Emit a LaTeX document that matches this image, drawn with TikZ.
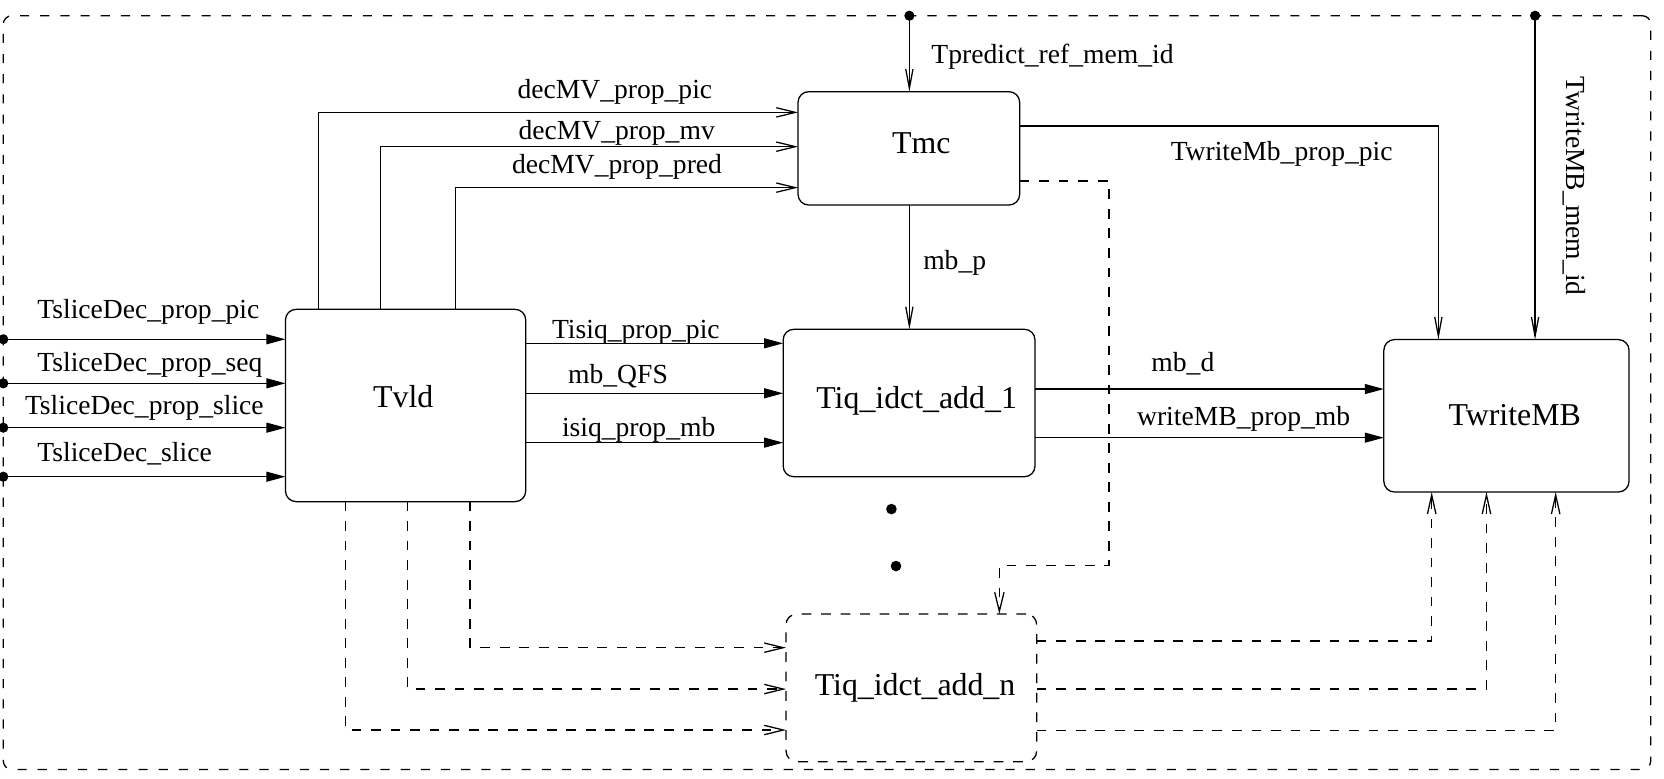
\documentclass[tikz,border=0pt]{standalone}
\usepackage{fontspec}
\setmainfont{Liberation Serif}
\usetikzlibrary{arrows.meta}
\begin{document}
\begin{tikzpicture}[x=0.5pt, y=-0.5pt,
  every node/.style={inner sep=0pt, outer sep=0pt},
  wire/.style={line width=0.6pt},
  dwire/.style={wire, dash pattern=on 4.6pt off 4.6pt},
  box/.style n args={2}{draw, line width=0.6pt, rounded corners=5pt,
    minimum width=#1, minimum height=#2},
  oarr/.style={-{Straight Barb[length=9pt,width=4.4pt]}},
  varr/.style={-{Straight Barb[length=9pt,width=3.4pt]}},
  uarr/.style={-{Straight Barb[length=9pt,width=4pt]}},
  farr/.style={-{Triangle[length=9pt,width=4.7pt]}},
  lbl/.style={font=\fontsize{13}{15}\selectfont, anchor=base west},
  big/.style={font=\fontsize{15}{18}\selectfont, anchor=base west},
  tap/.style={radius=2.4pt}
]
\useasboundingbox (0,0) rectangle (1568,734);

% enclosing dashed frame
\node[box={776.2pt}{355.1pt}, rounded corners=4pt, dash pattern=on 4.3pt off 5.2pt] (frame) at (779.3,369.9) {};

% processes
\node[box={113.2pt}{90.6pt}] (Tvld) at (382.2,382.1) {};
\node[box={104.4pt}{53.4pt}] (Tmc) at (856.4,139.8) {};
\node[box={118.65pt}{69.45pt}] (Tiq1) at (856.65,379.75) {};
\node[box={118.1pt}{69.55pt}, dash pattern=on 4.6pt off 4.6pt] (Tiqn) at (858.8,648.15) {};
\node[box={115.5pt}{71.8pt}] (TwriteMB) at (1419.5,391.8) {};

\node[big] (t1) at (351.6,384) {Tvld};
\node[big] (t2) at (840.6,144.5) {Tmc};
\node[big] (t3) at (769.3,384.8) {Tiq\_idct\_add\_1};
\node[big] (t4) at (767.8,655) {Tiq\_idct\_add\_n};
\node[big] (t5) at (1365,400.5) {TwriteMB};

% routing points
\coordinate (tp) at (856.9,14.8);
\coordinate (tw) at (1446.5,14.8);
\coordinate (in1) at (3.1,319.7);
\coordinate (in2) at (3.1,361.2);
\coordinate (in3) at (3.1,403);
\coordinate (in4) at (3.1,449.2);
\coordinate (xa) at (299.9,0);  \coordinate (ya) at (0,105.9);
\coordinate (xb) at (358.8,0);  \coordinate (yb) at (0,138.2);
\coordinate (xc) at (429.4,0);  \coordinate (yc) at (0,176.8);
\coordinate (y1) at (0,323.5);
\coordinate (y2) at (0,370.6);
\coordinate (y3) at (0,417.1);
\coordinate (y4) at (0,366.6);
\coordinate (y5) at (0,412.4);
\coordinate (y6) at (0,118.7);  \coordinate (x6) at (1355.4,0);
\coordinate (xp) at (856.9,0);
\coordinate (y7) at (0,170.6);
\coordinate (bd) at (1044.9,533);
\coordinate (xe) at (941.7,0);
\coordinate (xf) at (325.7,0);  \coordinate (yf) at (0,687.9);
\coordinate (xg) at (384.2,0);  \coordinate (yg) at (0,649.3);
\coordinate (xh) at (442.9,0);  \coordinate (yh) at (0,610.3);
\coordinate (yi) at (0,604);    \coordinate (xi) at (1349.1,0);
\coordinate (yj) at (0,649.3);  \coordinate (xj) at (1400.7,0);
\coordinate (yk) at (0,688.5);  \coordinate (xk) at (1465.9,0);

% taps on the frame
\foreach \c in {tp,tw,in1,in2,in3,in4} \fill (\c) circle[tap];

% slice decoder inputs
\foreach \c in {in1,in2,in3,in4}
  \draw[wire,farr] (\c) -- (\c -| Tvld.west);

% Tvld -> Tmc
\draw[wire,oarr] (Tvld.north -| xa) |- (Tmc.west |- ya);
\draw[wire,oarr] (Tvld.north -| xb) |- (Tmc.west |- yb);
\draw[wire,oarr] (Tvld.north -| xc) |- (Tmc.west |- yc);

% Tvld -> Tiq_idct_add_1
\foreach \c in {y1,y2,y3}
  \draw[wire,farr] (Tvld.east |- \c) -- (Tiq1.west |- \c);

% Tiq_idct_add_1 -> TwriteMB
\foreach \c in {y4,y5}
  \draw[wire,farr] (Tiq1.east |- \c) -- (TwriteMB.west |- \c);

% Tmc outputs
\draw[wire,varr] (Tmc.east |- y6) -| (TwriteMB.north -| x6);
\draw[wire,varr] (Tmc.south -| xp) -- (Tiq1.north -| xp);
\draw[dwire,oarr] (Tmc.east |- y7) -| (bd) -| (Tiqn.north -| xe);

% memory ids
\draw[wire,varr] (tp) -- (tp |- Tmc.north);
\draw[wire,varr] (tw) -- (tw |- TwriteMB.north);

% Tvld -> Tiq_idct_add_n
\draw[dwire,oarr] (Tvld.south -| xf) |- (Tiqn.west |- yf);
\draw[dwire,oarr] (Tvld.south -| xg) |- (Tiqn.west |- yg);
\draw[dwire,oarr] (Tvld.south -| xh) |- (Tiqn.west |- yh);

% Tiq_idct_add_n -> TwriteMB
\draw[dwire,uarr] (Tiqn.east |- yi) -| (TwriteMB.south -| xi);
\draw[dwire,uarr] (Tiqn.east |- yj) -| (TwriteMB.south -| xj);
\draw[dwire,uarr] (Tiqn.east |- yk) -| (TwriteMB.south -| xk);

% ellipsis between the instances
\fill (840,479.7) circle (2.5pt);
\fill (844.3,533.4) circle (2.5pt);

% channel names
\node[lbl] (l1) at (35.3,299.7) {TsliceDec\_prop\_pic};
\node[lbl] (l2) at (35.3,350) {TsliceDec\_prop\_seq};
\node[lbl] (l3) at (23.6,391) {TsliceDec\_prop\_slice};
\node[lbl] (l4) at (35.3,435) {TsliceDec\_slice};
\node[lbl] (l5) at (487.7,92.6) {decMV\_prop\_pic};
\node[lbl] (l6) at (488.7,131.9) {decMV\_prop\_mv};
\node[lbl] (l7) at (482.5,163.3) {decMV\_prop\_pred};
\node[lbl] (l8) at (877.7,59.7) {Tpredict\_ref\_mem\_id};
\node[lbl] (l9) at (1103.2,150.8) {TwriteMb\_prop\_pic};
\node[lbl, rotate=-90] (l10) at (1476.3,72.3) {TwriteMB\_mem\_id};
\node[lbl] (l11) at (520.2,318.8) {Tisiq\_prop\_pic};
\node[lbl] (l12) at (535.4,361.2) {mb\_QFS};
\node[lbl] (l13) at (529.6,411.5) {isiq\_prop\_mb};
\node[lbl] (l14) at (870,254.4) {mb\_p};
\node[lbl] (l15) at (1085,350.2) {mb\_d};
\node[lbl] (l16) at (1071.5,400.5) {writeMB\_prop\_mb};
\end{tikzpicture}
\end{document}
